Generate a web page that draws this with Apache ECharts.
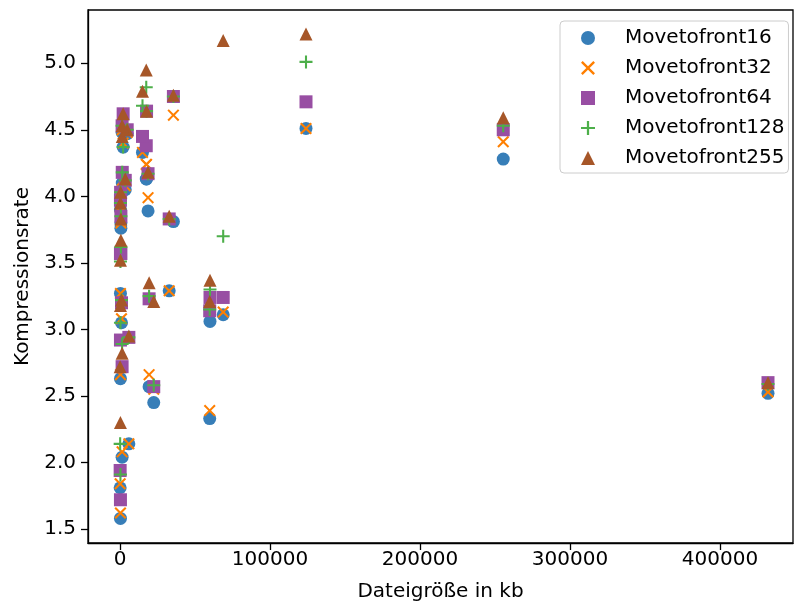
<!DOCTYPE html>
<html>
<head>
<meta charset="utf-8">
<script src="https://cdn.jsdelivr.net/npm/echarts@6/dist/echarts.min.js"></script>
<style>
html,body{margin:0;padding:0;background:#fff;}
#chart{width:794px;height:603px;}
</style>
</head>
<body>
<div id="chart"></div>
<script>
// File sizes in kb (x values)
const fileSizes = [432000, 255500, 124000, 68800, 59800, 60000, 35600, 32800, 22500, 19400,
  18700, 17500, 15000, 17700, 300, 100, 1400, 5900, 300, 1000,
  300, 600, 600, 300, 400, 3500, 1500, 2100, 4800, 1400];
// Compression rates per series
const mtf16  = [2.52, 4.28, 4.51, 3.11, 2.33, 3.06, 3.81, 3.29, 2.45, 2.57,
  3.89, 4.13, 4.33, 4.13, 1.58, 1.81, 2.04, 2.14, 2.63, 3.05,
  3.27, 3.76, 3.80, 3.90, 3.98, 4.05, 4.10, 4.37, 4.47, 4.48];
const mtf32  = [2.53, 4.41, 4.51, 3.13, 2.39, 3.14, 4.61, 3.29, 2.55, 2.66,
  3.99, 4.24, 4.33, 4.24, 1.62, 1.84, 2.08, 2.14, 2.66, 3.08,
  3.27, 3.80, 3.82, 3.92, 4.00, 4.08, 4.12, 4.40, 4.48, 4.50];
const mtf64  = [2.60, 4.50, 4.71, 3.24, 3.14, 3.24, 4.75, 3.83, 2.57, 3.23,
  4.17, 4.38, 4.45, 4.64, 1.72, 1.94, 2.72, 2.94, 2.92, 3.20,
  3.57, 3.57, 3.85, 3.97, 4.03, 4.12, 4.18, 4.62, 4.50, 4.53];
const mtf128 = [2.59, 4.53, 5.01, 3.70, 3.15, 3.30, 4.75, 3.83, 2.58, 3.25,
  4.17, 4.82, 4.68, 4.64, 1.91, 2.14, 2.89, 2.94, 3.05, 3.22,
  3.51, 3.62, 3.85, 3.95, 4.03, 4.12, 4.18, 4.37, 4.50, 4.53];
const mtf255 = [2.60, 4.59, 5.22, 5.17, 3.21, 3.37, 4.76, 3.85, 3.21, 3.35,
  4.18, 4.95, 4.79, 4.64, 2.30, 2.72, 2.82, 2.95, 3.18, 3.22,
  3.52, 3.67, 3.83, 3.95, 4.03, 4.13, 4.45, 4.62, 4.50, 4.53];

const seriesNames = ['Movetofront16', 'Movetofront32', 'Movetofront64', 'Movetofront128', 'Movetofront255'];
const seriesValues = [mtf16, mtf32, mtf64, mtf128, mtf255];
const seriesColors = ['#377eb8', '#ff7f00', '#984ea3', '#4daf4a', '#a65628'];
const xTicks = [0, 100000, 200000, 300000, 400000];
const yTicks = [1.5, 2.0, 2.5, 3.0, 3.5, 4.0, 4.5, 5.0];

const xPath = 'path://M0,12L12,0L50,38L88,0L100,12L62,50L100,88L88,100L50,62L12,100L0,88L38,50Z';
const plusPath = 'path://M42,0L58,0L58,42L100,42L100,58L58,58L58,100L42,100L42,58L0,58L0,42L42,42Z';
const symbols = ['circle', xPath, 'rect', plusPath, 'triangle'];
const sizes = [13, 12, 13, 13, 13];

const FONT = 'DejaVu Sans';
const chart = echarts.init(document.getElementById('chart'), null, {renderer: 'canvas'});

const series = seriesNames.map((name, k) => ({
  name: name,
  type: 'scatter',
  data: fileSizes.map((x, i) => [x, seriesValues[k][i]]),
  symbol: symbols[k],
  symbolSize: sizes[k],
  itemStyle: {color: seriesColors[k], opacity: 1},
  emphasis: {disabled: true},
  silent: true
}));

chart.setOption({
  animation: false,
  backgroundColor: '#ffffff',
  grid: {left: 88, right: 1, top: 10, bottom: 60, show: true, borderColor: '#000', borderWidth: 1.3, backgroundColor: 'transparent', outerBoundsMode: 'none'},
  xAxis: {
    type: 'value', min: -21333, max: 448667,
    splitLine: {show: false},
    axisLine: {show: true, onZero: false, lineStyle: {color: '#000', width: 1.3}},
    axisTick: {show: true, length: 7, lineStyle: {color: '#000', width: 1.3}, customValues: xTicks},
    axisLabel: {show: true, margin: 7, fontSize: 20, fontFamily: FONT, color: '#000', customValues: xTicks, formatter: v => String(v)},
    name: 'Dateigröße in kb', nameLocation: 'middle', nameGap: 39,
    nameTextStyle: {fontSize: 20, fontFamily: FONT, color: '#000'}
  },
  yAxis: {
    type: 'value', min: 1.395, max: 5.40,
    splitLine: {show: false},
    axisLine: {show: true, onZero: false, lineStyle: {color: '#000', width: 1.3}},
    axisTick: {show: true, length: 7, lineStyle: {color: '#000', width: 1.3}, customValues: yTicks},
    axisLabel: {show: true, margin: 12, fontSize: 20, fontFamily: FONT, color: '#000', customValues: yTicks, formatter: v => v.toFixed(1)},
    name: 'Kompressionsrate', nameLocation: 'middle', nameGap: 52, nameRotate: 90,
    nameTextStyle: {fontSize: 20, fontFamily: FONT, color: '#000'}
  },
  legend: {
    orient: 'vertical', left: 560, top: 21,
    padding: [7, 4, 5, 21],
    itemWidth: 14, itemHeight: 14, itemGap: 10,
    textStyle: {fontSize: 20, fontFamily: FONT, color: '#000', padding: [0, 0, 0, 25], lineHeight: 20},
    borderColor: '#cccccc', borderWidth: 1, borderRadius: 4,
    backgroundColor: 'rgba(255,255,255,0.8)',
    data: seriesNames,
    selectedMode: false
  },
  series: series
});
</script>
</body>
</html>
